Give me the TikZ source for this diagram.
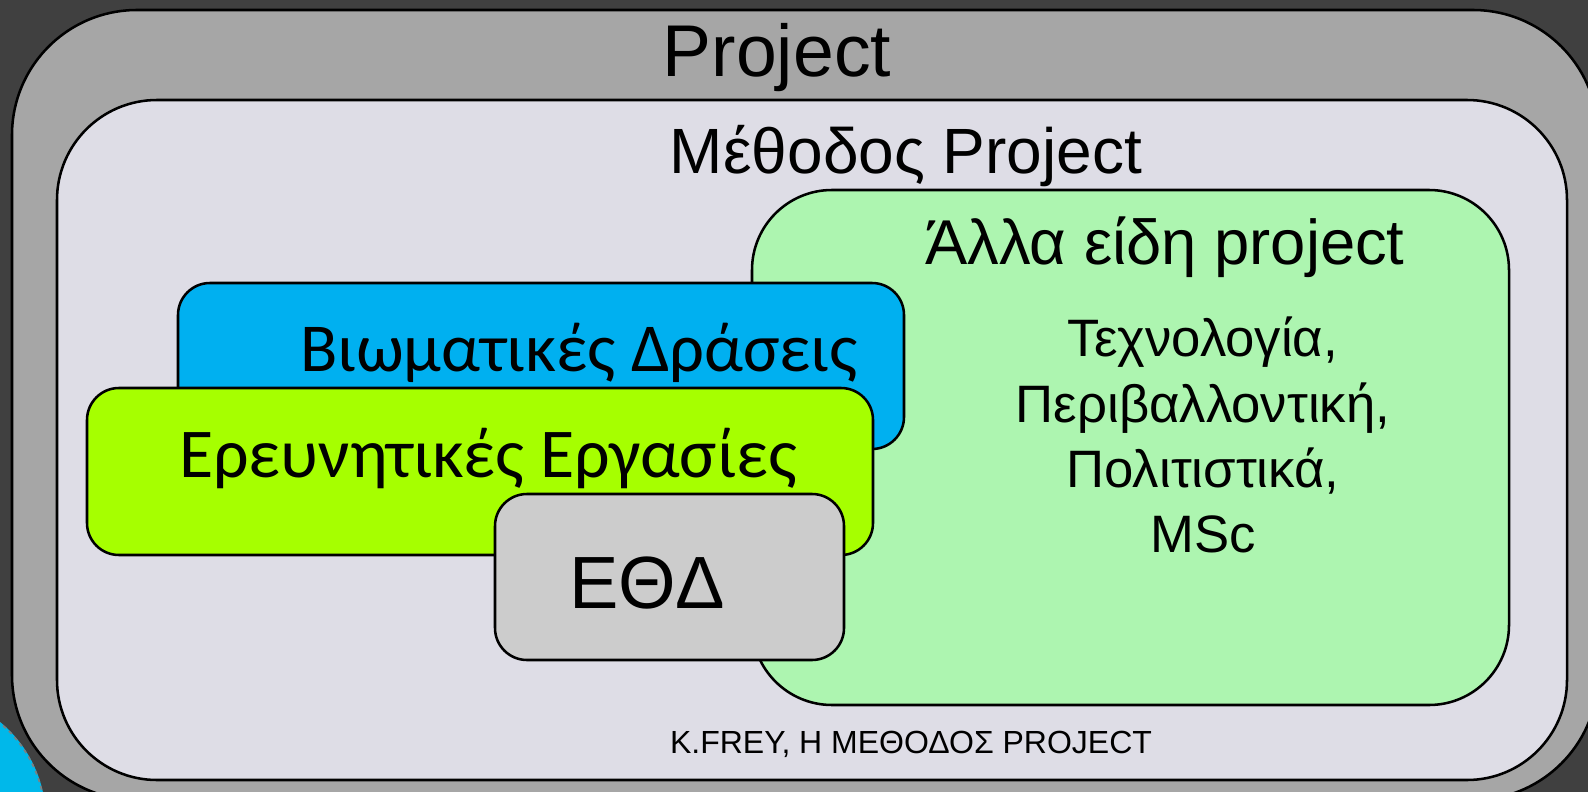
\documentclass[tikz,border=0pt]{standalone}
\usepackage{fontspec}
\setmainfont{Liberation Sans}
\newfontfamily\calfont{Carlito}
\usepackage{tikz}

\definecolor{bgdark}{RGB}{64,64,64}
\definecolor{outergray}{RGB}{166,166,166}
\definecolor{innerlav}{RGB}{222,221,230}
\definecolor{othergreen}{RGB}{173,245,176}
\definecolor{vivblue}{RGB}{0,176,240}
\definecolor{resgreen}{RGB}{166,255,0}
\definecolor{ethgray}{RGB}{204,204,204}
\definecolor{cornercyan}{RGB}{0,184,234}

\tikzset{
  box/.style={draw=black, line width=1.9},
  fs/.style={font=\fontsize{#1}{#1}\selectfont},
  cfs/.style={font=\calfont\fontsize{#1}{#1}\selectfont}
}

\begin{document}
\begin{tikzpicture}[x=0.75pt,y=0.75pt,yscale=-1,xscale=1]
\useasboundingbox (0,0) rectangle (1588,792);
\clip (0,0) rectangle (1588,792);
\fill [bgdark] (0,0) rectangle (1588,792);

%Shape: Circle [corner]
\draw [cornercyan, fill=cornercyan, line width=1.2] (-80,819) circle [radius=125];
\draw [gray, dashed, line width=1.2] (-80,819) circle [radius=125];

%Rounded Rect [outer]
\draw [box, fill=outergray, rounded corners=93.75] (12,10) rectangle (1598,800);
%Rounded Rect [inner]
\draw [box, fill=innerlav, rounded corners=75] (57,100) rectangle (1567,780);
%Rounded Rect [other kinds]
\draw [box, fill=othergreen, rounded corners=60] (752,190) rectangle (1509,705);
%Rounded Rect [vivid]
\draw [box, fill=vivblue, rounded corners=24] (178,283) rectangle (904,449);
%Rounded Rect [research]
\draw [box, fill=resgreen, rounded corners=24] (87,388) rectangle (873,555);
%Rounded Rect [etd]
\draw [box, fill=ethgray, rounded corners=24] (495,494) rectangle (844,660);

% Text Node
\draw (777,77) node (proj) [anchor=base, fs=55] {Project};
% Text Node
\draw (906,173) node (method) [anchor=base, fs=48] {Μέθοδος Project};
% Text Node
\draw (1165,264) node (others) [anchor=base, fs=47.5] {Άλλα είδη project};
% Text Node
\draw (1203,435) node (kinds) [align=center, font=\fontsize{39.5}{48.8}\selectfont] {Τεχνολογία,\\Περιβαλλοντική,\\Πολιτιστικά,\\MSc};
% Text Node
\draw (579,371) node (vivid) [anchor=base, cfs=51.5] {Βιωματικές Δράσεις};
% Text Node
\draw (488,477) node (research) [anchor=base, cfs=52.5] {Ερευνητικές Εργασίες};
% Text Node
\draw (647,608) node (etd) [anchor=base, fs=55.5] {ΕΘΔ};
% Text Node
\draw (911,753) node (source) [anchor=base, fs=24] {K.FREY, Η ΜΕΘΟΔΟΣ PROJECT};

\end{tikzpicture}
\end{document}
